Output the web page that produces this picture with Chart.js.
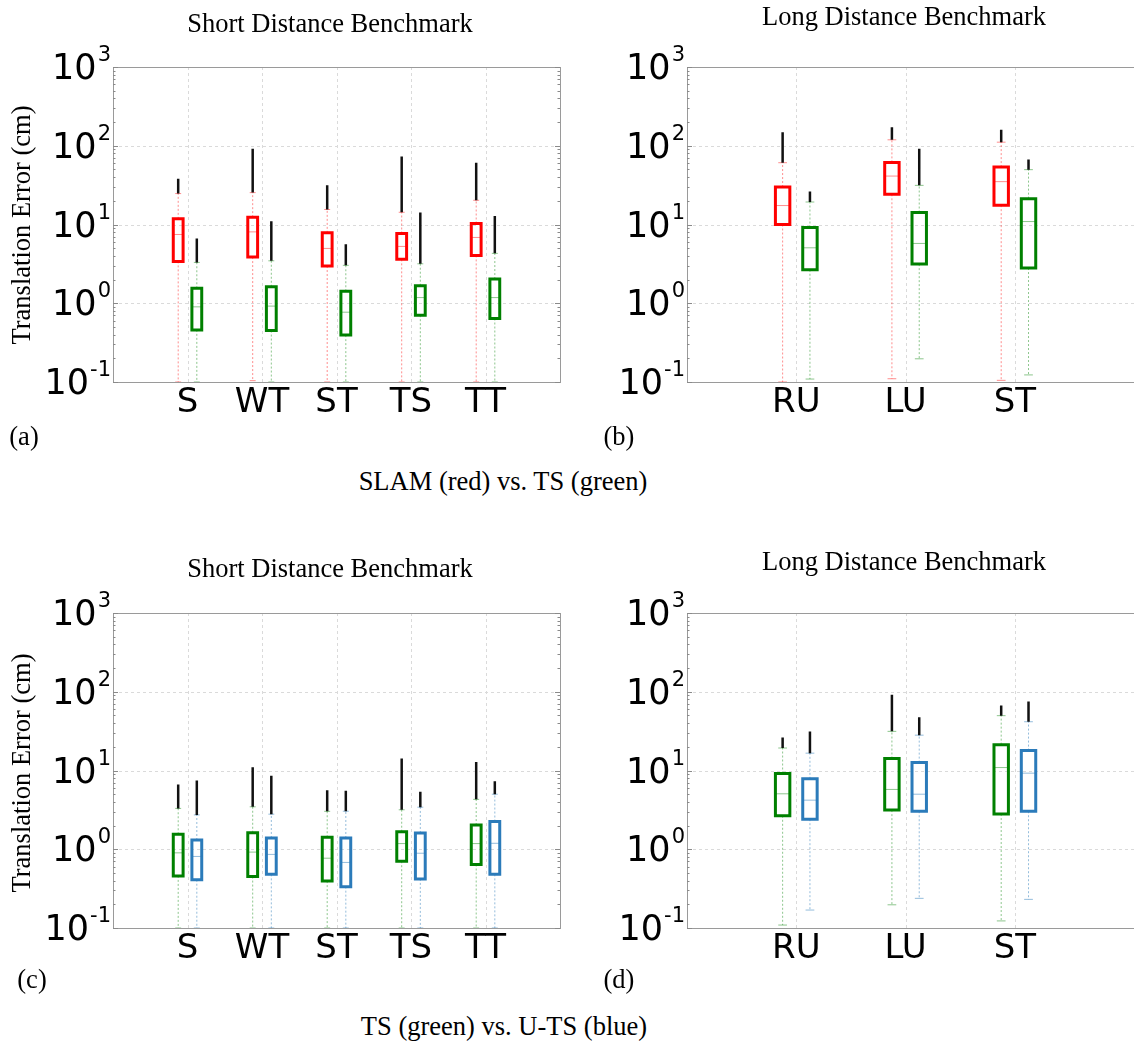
<!DOCTYPE html>
<html>
<head>
<meta charset="utf-8">
<script src="https://cdn.jsdelivr.net/npm/chart.js@4.4.1/dist/chart.umd.min.js"></script>
<style>
  html, body { margin: 0; padding: 0; width: 1134px; height: 1041px; overflow: hidden; background: #fff; }
  canvas { position: absolute; }
  .txt { position: absolute; font-family: "Liberation Serif", "Times New Roman", serif; font-size: 26.5px;
         line-height: 26px; white-space: nowrap; color: #000; transform: translate(-50%, -50%); }
  .rot { transform: translate(-50%, -50%) rotate(-90deg); }
</style>
</head>
<body>
<canvas id="pa" width="570" height="440" style="left:0px;top:0px"></canvas>
<canvas id="pb" width="600" height="440" style="left:580px;top:0px"></canvas>
<canvas id="pc" width="570" height="440" style="left:0px;top:545px"></canvas>
<canvas id="pd" width="600" height="440" style="left:580px;top:545px"></canvas>

<div class="txt" style="left:330px;top:23px">Short Distance Benchmark</div>
<div class="txt" style="left:904px;top:16px">Long Distance Benchmark</div>
<div class="txt rot" style="left:21px;top:225px">Translation Error (cm)</div>
<div class="txt" style="left:24px;top:436px">(a)</div>
<div class="txt" style="left:619px;top:436px">(b)</div>
<div class="txt" style="left:503px;top:481px">SLAM (red) vs. TS (green)</div>

<div class="txt" style="left:330px;top:568px">Short Distance Benchmark</div>
<div class="txt" style="left:904px;top:561px">Long Distance Benchmark</div>
<div class="txt rot" style="left:21px;top:773px">Translation Error (cm)</div>
<div class="txt" style="left:32px;top:979px">(c)</div>
<div class="txt" style="left:619px;top:979px">(d)</div>
<div class="txt" style="left:504px;top:1026px">TS (green) vs. U-TS (blue)</div>

<script>
// ---- categories ----
const shortCats = ['S', 'WT', 'ST', 'TS', 'TT'];
const longCats = ['RU', 'LU', 'ST'];

// ---- translation error statistics (cm), short distance benchmark ----
// SLAM
const slamShortQ1   = [3.40, 3.86, 2.97, 3.61, 4.05];
const slamShortMed  = [7.47, 8.06, 4.97, 5.27, 6.85];
const slamShortQ3   = [11.8, 12.4, 7.83, 7.69, 10.3];
const slamShortLo   = [0.10, 0.104, 0.10, 0.10, 0.10];
const slamShortHi   = [24.7, 25.4, 15.5, 14.3, 20.3];
const slamShortFmax = [38.2, 91.6, 31.4, 73.2, 60.9];
// TS
const tsShortQ1   = [0.459, 0.45, 0.394, 0.705, 0.64];
const tsShortMed  = [0.90, 0.92, 0.77, 1.18, 1.18];
const tsShortQ3   = [1.55, 1.62, 1.42, 1.67, 2.03];
const tsShortLo   = [0.10, 0.10, 0.10, 0.10, 0.10];
const tsShortHi   = [3.30, 3.46, 3.03, 3.17, 4.30];
const tsShortFmax = [6.65, 11.0, 5.63, 14.2, 12.8];
// U-TS
const utsShortQ1   = [0.41, 0.48, 0.335, 0.42, 0.48];
const utsShortMed  = [0.81, 0.86, 0.68, 0.89, 1.19];
const utsShortQ3   = [1.31, 1.39, 1.39, 1.61, 2.25];
const utsShortLo   = [0.10, 0.10, 0.10, 0.10, 0.10];
const utsShortHi   = [2.73, 2.79, 3.04, 3.42, 5.00];
const utsShortFmax = [7.46, 8.55, 5.52, 5.36, 7.32];

// ---- translation error statistics (cm), long distance benchmark ----
// SLAM
const slamLongQ1   = [10.0, 24.2, 17.6];
const slamLongMed  = [17.4, 41.2, 35.0];
const slamLongQ3   = [29.9, 61.5, 53.6];
const slamLongLo   = [0.10, 0.11, 0.105];
const slamLongHi   = [60.9, 119, 111];
const slamLongFmax = [148.6, 172, 160];
// TS
const tsLongQ1   = [2.66, 3.14, 2.80];
const tsLongMed  = [5.06, 5.75, 10.9];
const tsLongQ3   = [9.16, 14.2, 21.3];
const tsLongLo   = [0.109, 0.197, 0.123];
const tsLongHi   = [19.3, 31.4, 49.7];
const tsLongFmax = [26.2, 91.6, 67.1];
// U-TS
const utsLongQ1   = [2.41, 3.04, 3.04];
const utsLongMed  = [4.20, 5.00, 9.25];
const utsLongQ3   = [7.84, 12.6, 17.9];
const utsLongLo   = [0.169, 0.238, 0.231];
const utsLongHi   = [16.6, 28.1, 41.6];
const utsLongFmax = [31.3, 47.6, 75.4];

// y axis: decades shown
const yExponents = [-1, 0, 1, 2, 3];

// ---- styling ----
const RED = '#ff0000', RED_FAINT = 'rgba(255,0,0,0.45)';
const GREEN = '#008000', GREEN_FAINT = 'rgba(0,128,0,0.45)';
const BLUE = '#2b7bba', BLUE_FAINT = 'rgba(43,123,186,0.5)';

function stats(q1, med, q3, lo, hi, fmax) { return { q1, med, q3, lo, hi, fmax }; }

// Builds the line datasets that make up one box-plot series
function boxSeries(s, offset, color, faint) {
  const BOX = 0.066, CAP = 0.04;
  const whisk = [], caps = [], boxes = [], meds = [], fliers = [];
  s.q1.forEach((_, i) => {
    const x = i + 1 + offset;
    whisk.push({x, y: s.q3[i]}, {x, y: s.hi[i]}, {x, y: null},
               {x, y: s.q1[i]}, {x, y: s.lo[i]}, {x, y: null});
    caps.push({x: x - CAP, y: s.hi[i]}, {x: x + CAP, y: s.hi[i]}, {x, y: null},
              {x: x - CAP, y: s.lo[i]}, {x: x + CAP, y: s.lo[i]}, {x, y: null});
    boxes.push({x: x - BOX, y: s.q1[i]}, {x: x + BOX, y: s.q1[i]}, {x: x + BOX, y: s.q3[i]},
               {x: x - BOX, y: s.q3[i]}, {x: x - BOX, y: s.q1[i]}, {x, y: null});
    meds.push({x: x - BOX, y: s.med[i]}, {x: x + BOX, y: s.med[i]}, {x, y: null});
    fliers.push({x, y: s.hi[i]}, {x, y: s.fmax[i]}, {x, y: null});
  });
  const base = { type: 'line', pointRadius: 0, pointHoverRadius: 0, fill: false, tension: 0, spanGaps: false };
  return [
    { ...base, order: 4, data: whisk, borderColor: faint, borderWidth: 1, borderDash: [2, 2] },
    { ...base, order: 3, data: caps, borderColor: faint, borderWidth: 1 },
    { ...base, order: 2, data: fliers, borderColor: '#111', borderWidth: 2.5, borderCapStyle: 'butt' },
    { ...base, order: 1, data: boxes, borderColor: color, borderWidth: 3,
      borderCapStyle: 'square', borderJoinStyle: 'miter' },
    { ...base, order: 0, data: meds, borderColor: faint, borderWidth: 1 }
  ];
}

// Grid, frame, log ticks and tick labels for each panel
const panelDecor = {
  id: 'panelDecor',
  beforeDatasetsDraw(chart, args, opts) {
    const { ctx, chartArea: a, scales: { x, y } } = chart;
    ctx.save();
    ctx.strokeStyle = '#dadada';
    ctx.lineWidth = 1;
    ctx.setLineDash([3, 3]);
    yExponents.slice(1, -1).forEach(e => {
      const py = Math.round(y.getPixelForValue(Math.pow(10, e))) + 0.5;
      ctx.beginPath(); ctx.moveTo(a.left, py); ctx.lineTo(a.right, py); ctx.stroke();
    });
    opts.cats.forEach((c, i) => {
      const px = Math.round(x.getPixelForValue(i + 1)) + 0.5;
      ctx.beginPath(); ctx.moveTo(px, a.top); ctx.lineTo(px, a.bottom); ctx.stroke();
    });
    ctx.restore();
  },
  afterDatasetsDraw(chart, args, opts) {
    const { ctx, chartArea: a, scales: { x, y } } = chart;
    ctx.save();
    // frame
    ctx.strokeStyle = '#9a9a9a';
    ctx.lineWidth = 1;
    ctx.strokeRect(Math.round(a.left) + 0.5, Math.round(a.top) + 0.5,
                   Math.round(a.right - a.left), Math.round(a.bottom - a.top));
    // inward major / minor ticks on both vertical spines
    ctx.strokeStyle = '#8a8a8a';
    for (let k = 0; k < yExponents.length; k++) {
      const e = yExponents[k];
      const mults = k === yExponents.length - 1 ? [1] : [1, 2, 3, 4, 5, 6, 7, 8, 9];
      mults.forEach(m => {
        const py = Math.round(y.getPixelForValue(m * Math.pow(10, e))) + 0.5;
        const len = m === 1 ? 5 : 2.5;
        ctx.beginPath();
        ctx.moveTo(a.left, py); ctx.lineTo(a.left + len, py);
        ctx.moveTo(a.right, py); ctx.lineTo(a.right - len, py);
        ctx.stroke();
      });
    }
    // y tick labels: 10 with superscript exponent
    ctx.fillStyle = '#000';
    ctx.textAlign = 'right';
    ctx.textBaseline = 'alphabetic';
    yExponents.forEach(e => {
      const py = y.getPixelForValue(Math.pow(10, e));
      const sup = String(e);
      ctx.font = '21px "DejaVu Sans"';
      const supW = ctx.measureText(sup).width;
      const rx = a.left - 2;
      ctx.fillText(sup, rx, py - 6);
      ctx.font = '35px "DejaVu Sans"';
      ctx.fillText('10', rx - supW - 1, py + 12);
    });
    // category labels
    ctx.textAlign = 'center';
    ctx.font = '34px "DejaVu Sans"';
    opts.cats.forEach((c, i) => {
      ctx.fillText(c, x.getPixelForValue(i + 1), a.bottom + 30);
    });
    ctx.restore();
  }
};

function makePanel(id, cats, xMax, pad, seriesA, seriesB) {
  const datasets = [
    ...boxSeries(seriesA.s, -0.125, seriesA.color, seriesA.faint),
    ...boxSeries(seriesB.s, 0.125, seriesB.color, seriesB.faint)
  ];
  return new Chart(document.getElementById(id), {
    type: 'line',
    data: { datasets },
    options: {
      responsive: false,
      animation: false,
      events: [],
      layout: { padding: pad },
      scales: {
        x: { type: 'linear', min: 0, max: xMax, display: false },
        y: { type: 'logarithmic', min: 0.1, max: 1000, display: false }
      },
      plugins: {
        legend: { display: false },
        tooltip: { enabled: false },
        panelDecor: { cats }
      }
    },
    plugins: [panelDecor]
  });
}

const slamShort = stats(slamShortQ1, slamShortMed, slamShortQ3, slamShortLo, slamShortHi, slamShortFmax);
const tsShort = stats(tsShortQ1, tsShortMed, tsShortQ3, tsShortLo, tsShortHi, tsShortFmax);
const utsShort = stats(utsShortQ1, utsShortMed, utsShortQ3, utsShortLo, utsShortHi, utsShortFmax);
const slamLong = stats(slamLongQ1, slamLongMed, slamLongQ3, slamLongLo, slamLongHi, slamLongFmax);
const tsLong = stats(tsLongQ1, tsLongMed, tsLongQ3, tsLongLo, tsLongHi, tsLongFmax);
const utsLong = stats(utsLongQ1, utsLongMed, utsLongQ3, utsLongLo, utsLongHi, utsLongFmax);

const padShortTop = { left: 113, top: 67, right: 10, bottom: 58 };
const padLongTop = { left: 107, top: 67, right: 34, bottom: 58 };
const padShortBottom = { left: 113, top: 68, right: 10, bottom: 57 };
const padLongBottom = { left: 107, top: 68, right: 34, bottom: 57 };

makePanel('pa', shortCats, 6, padShortTop,
  { s: slamShort, color: RED, faint: RED_FAINT }, { s: tsShort, color: GREEN, faint: GREEN_FAINT });
makePanel('pb', longCats, 4.2, padLongTop,
  { s: slamLong, color: RED, faint: RED_FAINT }, { s: tsLong, color: GREEN, faint: GREEN_FAINT });
makePanel('pc', shortCats, 6, padShortBottom,
  { s: tsShort, color: GREEN, faint: GREEN_FAINT }, { s: utsShort, color: BLUE, faint: BLUE_FAINT });
makePanel('pd', longCats, 4.2, padLongBottom,
  { s: tsLong, color: GREEN, faint: GREEN_FAINT }, { s: utsLong, color: BLUE, faint: BLUE_FAINT });
</script>
</body>
</html>
